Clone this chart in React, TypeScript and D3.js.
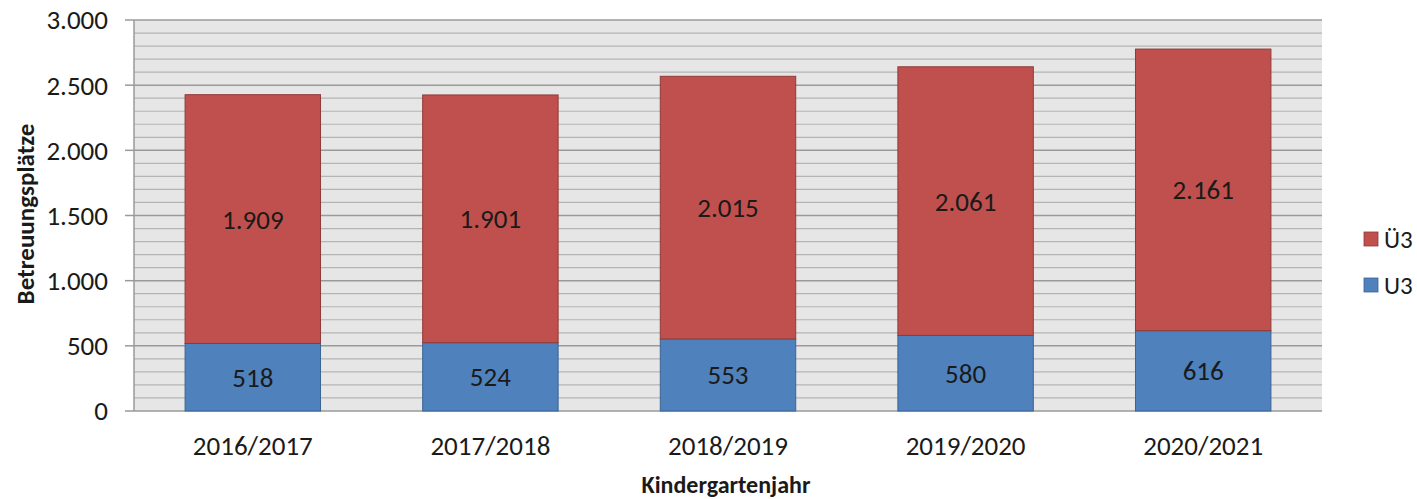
import React from "react";
import * as d3 from "d3";

const categories = ["2016/2017", "2017/2018", "2018/2019", "2019/2020", "2020/2021"];
const u3 = [518, 524, 553, 580, 616];
const ue3 = [1909, 1901, 2015, 2061, 2161];
const yTicks = [0, 500, 1000, 1500, 2000, 2500, 3000];
const minorTicks = d3.range(0, 3001, 100);

const W = 1417, H = 499;
const M = { left: 134, right: 1322, top: 20, bottom: 411 };
const FONT = "Carlito, Lato, sans-serif";
const fmt = (v: number) => d3.format(",")(v).replace(/,/g, ".");

export default function App() {
  const x = d3.scaleBand<string>().domain(categories).range([M.left, M.right]).paddingInner(0.43).paddingOuter(0.215);
  const y = d3.scaleLinear().domain([0, 3000]).range([M.bottom, M.top]);
  return (
    <svg width={W} height={H} style={{ position: "absolute", left: 0, top: 0 }} fontFamily={FONT}>
      <rect x={M.left} y={M.top} width={M.right - M.left} height={M.bottom - M.top} fill="#e6e6e6" />
      {minorTicks.map((t) => (
        <line key={t} x1={M.left} x2={M.right} y1={y(t)} y2={y(t)}
          stroke={t % 500 === 0 ? "#9a9a9a" : "#b4b4b4"} strokeWidth={t % 500 === 0 ? 1.5 : 1.2} />
      ))}
      <line x1={M.left} x2={M.left} y1={M.top} y2={M.bottom} stroke="#9a9a9a" strokeWidth={1.5} />
      {yTicks.map((t) => (
        <g key={t}>
          <line x1={M.left - 9} x2={M.left} y1={y(t)} y2={y(t)} stroke="#9a9a9a" strokeWidth={1.5} />
          <text x={108} y={y(t)} dy="0.35em" textAnchor="end" fontSize={27} fill="#1a1a1a">{fmt(t)}</text>
        </g>
      ))}
      {categories.map((c, i) => {
        const bx = x(c)!, bw = x.bandwidth();
        const yu = y(u3[i]), yt = y(u3[i] + ue3[i]);
        return (
          <g key={c}>
            <rect x={bx} y={yu} width={bw} height={M.bottom - yu} fill="#4f81bd" stroke="#3a6494" strokeWidth={1} />
            <rect x={bx} y={yt} width={bw} height={yu - yt} fill="#c0504d" stroke="#8e3b39" strokeWidth={1} />
            <text x={bx + bw / 2} y={(M.bottom + yu) / 2} dy="0.35em" textAnchor="middle" fontSize={27} fill="#1a1a1a">{fmt(u3[i])}</text>
            <text x={bx + bw / 2} y={(yu + yt) / 2} dy="0.35em" textAnchor="middle" fontSize={27} fill="#1a1a1a">{fmt(ue3[i])}</text>
            <text x={bx + bw / 2} y={446} dy="0.35em" textAnchor="middle" fontSize={27} fill="#1a1a1a">{c}</text>
          </g>
        );
      })}
      <text x={726} y={493} textAnchor="middle" fontSize={24} fontWeight="bold" fill="#1a1a1a">Kindergartenjahr</text>
      <text transform={`translate(25,214) rotate(-90)`} dy="0.35em" textAnchor="middle" fontSize={25} fontWeight="bold" fill="#1a1a1a">Betreuungsplätze</text>
      <rect x={1364} y={232} width={14} height={14} fill="#c0504d" stroke="#8e3b39" strokeWidth={0.8} />
      <text x={1384} y={239} dy="0.35em" fontSize={25} fill="#1a1a1a">Ü3</text>
      <rect x={1364} y={278} width={14} height={14} fill="#4f81bd" stroke="#3a6494" strokeWidth={0.8} />
      <text x={1384} y={285} dy="0.35em" fontSize={25} fill="#1a1a1a">U3</text>
    </svg>
  );
}
